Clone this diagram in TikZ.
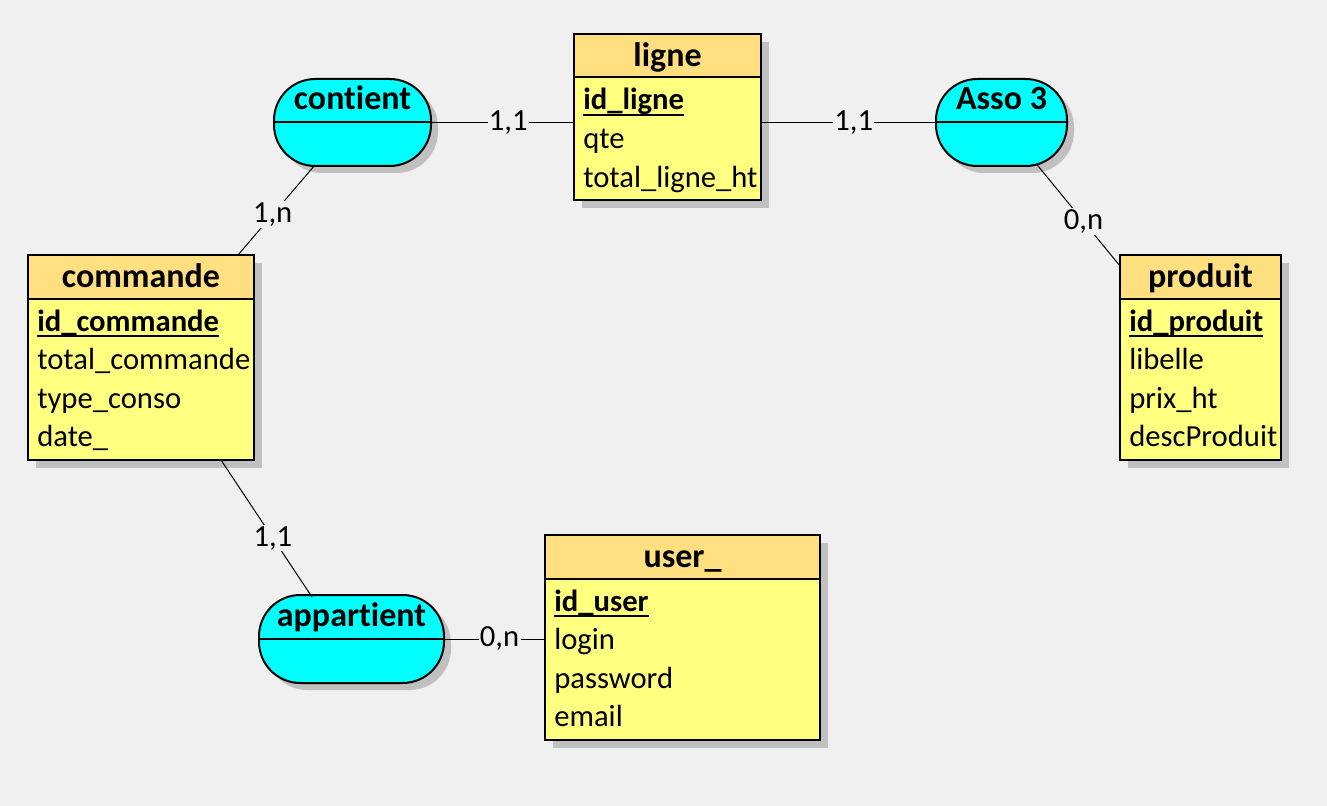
\documentclass[tikz,border=0pt]{standalone}
\usepackage{fontspec}
\setmainfont{Carlito}[Ligatures={NoCommon}]
\usetikzlibrary{calc}
\definecolor{bgc}{RGB}{240,240,240}
\definecolor{headc}{RGB}{255,223,128}
\definecolor{bodyc}{RGB}{255,255,128}
\definecolor{assocc}{RGB}{0,255,255}
\definecolor{shadowc}{RGB}{192,192,192}
\newcommand\keyattr[1]{\setbox0\hbox{#1}\rlap{\rule[-4.5pt]{\wd0}{1.5pt}}\box0}
\newcommand\mcdentity[6]{%
  \fill[shadowc] (#2+8,#3+8) rectangle (#4+8,#5+8);
  \node[entbody, minimum width={(#4-#2)*0.75pt}, minimum height={(#5-#3)*0.75pt}] (#1) at ({(#2+#4)/2},{(#3+#5)/2}) {};
  \draw[entline, fill=headc] (#1.north west) rectangle ($(#1.north east)+(0,43.5)$);
  \node[enttitle] (#1-t) at ($(#1.north)+(0,32.5)$) {#6};
}
\newcommand\mcdassoc[6]{%
  \fill[shadowc, rounded corners=31pt] (#2+7,#3+7) rectangle (#4+7,#5+7);
  \node[assocbox, minimum width={(#4-#2)*0.75pt}, minimum height={(#5-#3)*0.75pt}] (#1) at ({(#2+#4)/2},{(#3+#5)/2}) {};
  \draw[entline] (#1.west) -- (#1.east);
  \node[enttitle] (#1-t) at ($(#1.north)+(0,31)$) {#6};
}
\newcommand\mcdattr[4]{% entity, index, row, text
  \node[attr] (#1-a#2) at ($(#1.north west)+(9,{76+38.5*#3})$) {#4};
}
\tikzset{
  entline/.style={draw=black, line width=1.5pt},
  entbody/.style={entline, fill=bodyc, rectangle, inner sep=0pt, outer sep=0pt},
  assocbox/.style={entline, fill=assocc, rectangle, rounded corners=31pt, inner sep=0pt, outer sep=0pt},
  enttitle/.style={anchor=base, inner sep=0pt, font=\fontsize{25.5}{30}\selectfont\bfseries},
  attr/.style={anchor=base west, inner sep=0pt, font=\fontsize{23}{27}\selectfont},
  link/.style={draw=black, line width=0.75pt},
  card/.style={fill=bgc, inner sep=1pt, font=\fontsize{23}{27}\selectfont},
}
\begin{document}
\begin{tikzpicture}[x=0.75pt, y=-0.75pt]
\fill[bgc] (0,0) rectangle (1327,806);
\useasboundingbox (0,0) rectangle (1327,806);

% entities
\mcdentity{ligne}{574}{34}{761}{200}{ligne}
\mcdattr{ligne}{1}{0}{\keyattr{\bfseries id\_ligne}}
\mcdattr{ligne}{2}{1}{qte}
\mcdattr{ligne}{3}{2}{total\_ligne\_ht}

\mcdentity{commande}{28}{255}{254}{460}{commande}
\mcdattr{commande}{1}{0}{\keyattr{\bfseries id\_commande}}
\mcdattr{commande}{2}{1}{total\_commande}
\mcdattr{commande}{3}{2}{type\_conso}
\mcdattr{commande}{4}{3}{date\_}

\mcdentity{produit}{1120}{255}{1281}{460}{produit}
\mcdattr{produit}{1}{0}{\keyattr{\bfseries id\_produit}}
\mcdattr{produit}{2}{1}{libelle}
\mcdattr{produit}{3}{2}{prix\_ht}
\mcdattr{produit}{4}{3}{descProduit}

\mcdentity{user}{545}{535}{820}{740}{user\_}
\mcdattr{user}{1}{0}{\keyattr{\bfseries id\_user}}
\mcdattr{user}{2}{1}{login}
\mcdattr{user}{3}{2}{password}
\mcdattr{user}{4}{3}{email}

% associations
\mcdassoc{contient}{274}{79}{431}{166}{cont\kern0pt ient}
\mcdassoc{asso}{936}{79}{1067}{166}{Asso 3}
\mcdassoc{appartient}{259}{595}{444}{683}{appart\kern0pt ient}

% connectors
\draw[link] (contient.east) -- node[card, pos=0.54] (c1) {1,1} (contient.east -| ligne.west);
\draw[link] (asso.west -| ligne.east) -- node[card, pos=0.53] (c2) {1,1} (asso.west);
\draw[link] ($(asso.south)+(35.5,-1.3)$) -- node[card, pos=0.56] (c3) {0,n} ($(produit.north west)+(0,11)$);
\draw[link] ($(contient.south)+(-37.5,-1)$) -- node[card, pos=0.55] (c4) {1,n} ($(commande.north)+(97,0)$);
\draw[link] ($(commande.south)+(80,0)$) -- node[card, pos=0.57] (c5) {1,1} ($(appartient.north)+(-39.5,2)$);
\draw[link] (appartient.east) -- node[card, pos=0.55] (c6) {0,n} (appartient.east -| user.west);
\end{tikzpicture}
\end{document}
